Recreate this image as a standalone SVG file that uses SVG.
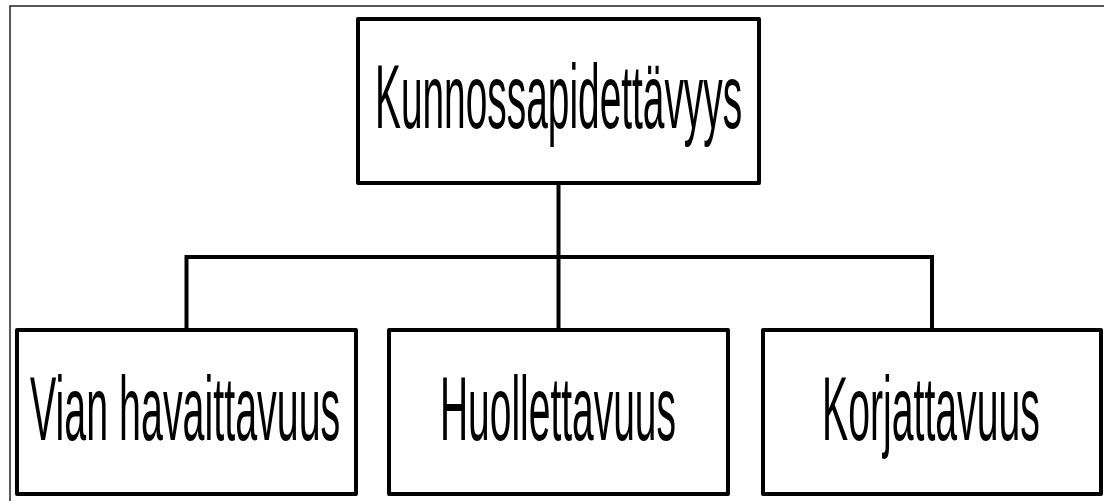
<svg xmlns="http://www.w3.org/2000/svg" width="1104" height="501" viewBox="0 0 1104 501">
  <style>
    .frame { fill: none; stroke: #222; stroke-width: 1.5; }
    .box { fill: #fff; stroke: #000; stroke-width: 4; stroke-linejoin: round; }
    .wire { fill: none; stroke: #000; stroke-width: 4; stroke-linejoin: miter; }
    .label { font-family: "Liberation Sans", Arial, sans-serif; font-size: 91px; fill: #000; }
  </style>
  <rect width="1104" height="501" fill="#fff"/>
  <rect class="frame" x="10" y="6" width="1110" height="510"/>

  <g id="connectors">
    <path class="wire" d="M558.5,183 V257 M186.5,330 V257 H932 V330 M558.5,257 V330"/>
  </g>

  <!-- labels use a condensed face: Liberation Sans squeezed horizontally -->
  <g id="node-kunnossapidettavyys">
    <rect class="box" x="358" y="19" width="401" height="164"/>
    <text class="label" transform="translate(375,128) scale(0.427,1)">Kunnossapidettävyys</text>
  </g>

  <g id="node-vian-havaittavuus">
    <rect class="box" x="17" y="330" width="339" height="164"/>
    <text class="label" transform="translate(30,440) scale(0.433,1)">Vian havaittavuus</text>
  </g>

  <g id="node-huollettavuus">
    <rect class="box" x="389" y="330" width="339" height="164"/>
    <text class="label" transform="translate(440,440) scale(0.428,1)">Huollettavuus</text>
  </g>

  <g id="node-korjattavuus">
    <rect class="box" x="763" y="330" width="338" height="164"/>
    <text class="label" transform="translate(822,440) scale(0.431,1)">Korjattavuus</text>
  </g>
</svg>
